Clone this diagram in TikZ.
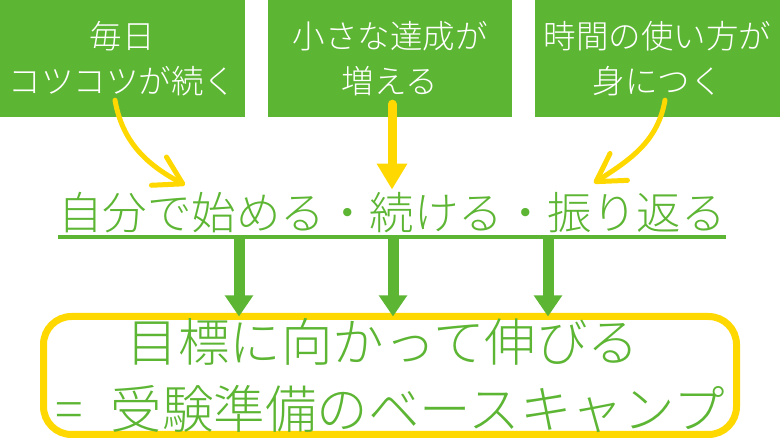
\documentclass[tikz,border=0pt]{standalone}
\usepackage{fontspec}
\usepackage{tikz}
\usetikzlibrary{arrows.meta}
\newfontfamily\jpfont{Noto Sans CJK JP Light}
\definecolor{leaf}{HTML}{5DB534}
\definecolor{sun}{HTML}{FFD800}
\tikzset{
	topbox/.style={fill=leaf,minimum width=245pt,minimum height=117pt,inner sep=0pt,align=center,text=white,font=\jpfont\fontsize{32.5}{45}\selectfont},
	sunbend/.style={draw=sun,line width=5pt,line cap=round,-{Straight Barb[length=27pt,width=32pt,round]}},
	sundown/.style={draw=sun,line width=9pt,line cap=round,-{Triangle[length=26pt,width=29pt]}},
	leafdown/.style={draw=leaf,line width=11pt,-{Triangle[length=21pt,width=27pt]}}
}

\begin{document}
\begin{tikzpicture}[x=1pt,y=1pt]
\useasboundingbox (0,0) rectangle (780,439);
%top boxes
\node[topbox] (daily) at (122.5,380.5) {毎日\\コツコツが続く};
\node[topbox,minimum width=244pt] (small) at (390,380.5) {小さな達成が\\増える};
\node[topbox] (time) at (657.5,380.5) {時間の使い方が\\身につく};
%middle line
\node[anchor=base,inner sep=0pt,text=leaf,font=\jpfont\fontsize{44.5}{50}\selectfont] (mid) at (392,209) {自分で始める・続ける・振り返る};
\draw[leaf,line width=4.5pt] ([yshift=-7pt]mid.base west) -- ([yshift=-7pt]mid.base east);
%goal
\node[draw=sun,line width=7pt,rounded corners=28pt,minimum width=693pt,minimum height=118pt,outer sep=0pt,inner sep=0pt,align=center,text=leaf,font=\jpfont\fontsize{51.5}{66.5}\selectfont] (goal) at (390,63.5) {目標に向かって伸びる\hspace*{14pt}\\=\hspace{28pt}受験準備のベースキャンプ};
%yellow arrows
\coordinate (tipL) at (185,254);
\coordinate (tipR) at (594,256);
\draw[sunbend] ([xshift=-7.5pt,yshift=17pt]daily.south) to[out=-80,in=152] (tipL);
\draw[sundown] ([xshift=2pt,yshift=13pt]small.south) -- ([xshift=2pt,yshift=3pt]small.south |- mid.north);
\draw[sunbend] ([xshift=7.5pt,yshift=17pt]time.south) to[out=-100,in=33] (tipR);
%green arrows
\foreach \x/\n in {239/a,393/b,548/c}{
	\coordinate (g\n) at (\x,202);
	\draw[leafdown] (g\n) -- (g\n |- goal.north);
}
\end{tikzpicture}
\end{document}
